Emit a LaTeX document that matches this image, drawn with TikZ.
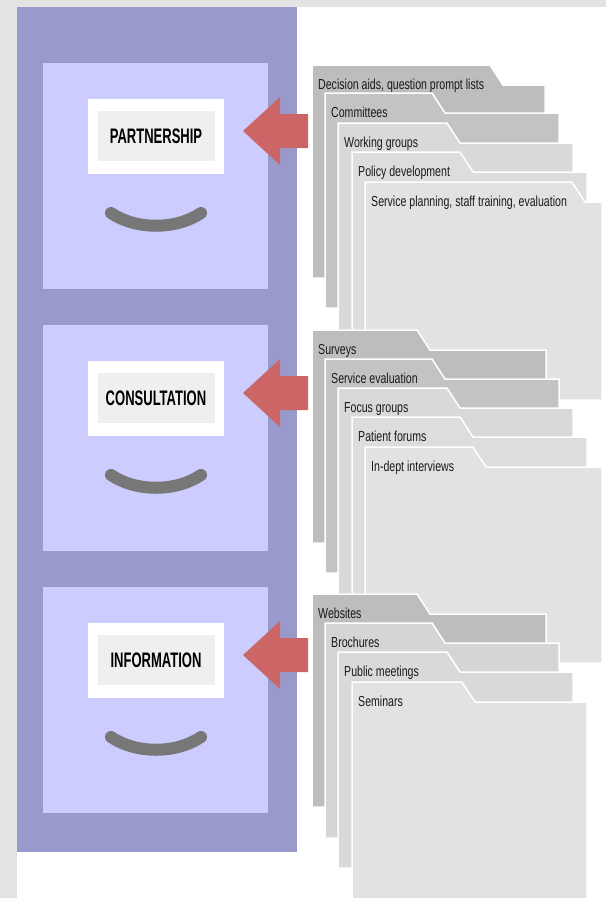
\documentclass[tikz,border=0pt]{standalone}
\usepackage{fontspec}
\setmainfont{Liberation Sans}
\newfontfamily\tabfont[FakeStretch=0.73]{Liberation Sans}
\newfontfamily\lblfont[FakeStretch=0.62]{Liberation Sans Bold}
\definecolor{frame}{HTML}{E3E3E3}
\definecolor{cabinet}{HTML}{9999CC}
\definecolor{drawer}{HTML}{CCCCFF}
\definecolor{lblgray}{HTML}{EFEFEF}
\definecolor{handlegray}{HTML}{777777}
\definecolor{arrowred}{HTML}{CC6666}
\definecolor{txt}{HTML}{1A1A1A}
\definecolor{fA}{HTML}{BDBDBD}
\definecolor{fB}{HTML}{C3C3C3}
\definecolor{fC}{HTML}{D9D9D9}
\definecolor{fD}{HTML}{DDDDDD}
\definecolor{fE}{HTML}{E2E2E2}
\definecolor{fF}{HTML}{D5D5D5}
\newcommand\fldr[7]{%
  \filldraw[fill=#6, draw=white, line width=1.5pt]
    (#1,#2) -- (#3,#2) -- (#3+13,#2+20) -- (#4,#2+20) -- (#4,#5) -- (#1,#5) -- cycle;
  \node[tabtext] at (#1+6,#2+24) {#7};
}
\newcommand\drw[3]{%
  \fill[drawer] (43,#1) rectangle (268,#1+226);
  \node[labelbox] (box#2) at (156,#1+73) {};
  \node[innerbox] (in#2) at (156,#1+73) {};
  \node[lbltext] (lbl#2) at (156,#1+73) {#3};
  \draw[handle] (111,#1+150) .. controls (136,#1+167) and (176,#1+167) .. (201,#1+150);
  \fill[arrowred] (243,#1+68) -- (280,#1+34) -- (280,#1+51) -- (308,#1+51)
     -- (308,#1+85) -- (280,#1+85) -- (280,#1+102) -- cycle;
}
\begin{document}
\begin{tikzpicture}[x=1pt,y=-1pt,
  tabtext/.style={anchor=base west, inner sep=0pt, text=txt,
    font=\tabfont\fontsize{14.5}{16}\selectfont},
  lbltext/.style={inner sep=0pt, text=black,
    font=\lblfont\fontsize{21}{24}\selectfont},
  labelbox/.style={fill=white, minimum width=136pt, minimum height=75pt, inner sep=0pt},
  innerbox/.style={fill=lblgray, minimum width=117pt, minimum height=50pt, inner sep=0pt},
  handle/.style={draw=handlegray, line width=12pt, line cap=round}]
\useasboundingbox (0,0) rectangle (606,898);
\fill[white] (0,0) rectangle (606,898);
\fill[frame] (0,0) rectangle (606,7);
\fill[frame] (0,0) rectangle (17,898);
% cabinet
\fill[cabinet] (17,7) rectangle (297,852);
\drw{63}{1}{PARTNERSHIP}
\drw{325}{2}{CONSULTATION}
\drw{587}{3}{INFORMATION}
% group 1
\fldr{312}{65}{490}{545}{278}{fA}{Decision aids, question prompt lists}
\fldr{325}{93}{432}{559}{308}{fB}{Committees}
\fldr{338}{123}{447}{573}{338}{fC}{Working groups}
\fldr{352}{152}{460}{587}{368}{fD}{Policy development}
\fldr{365}{182}{572}{602}{400}{fE}{Service planning, staff training, evaluation}
% group 2
\fldr{312}{330}{417}{546}{543}{fA}{Surveys}
\fldr{325}{359}{432}{559}{573}{fB}{Service evaluation}
\fldr{338}{388}{447}{573}{603}{fC}{Focus groups}
\fldr{352}{417}{460}{587}{633}{fD}{Patient forums}
\fldr{365}{447}{473}{602}{663}{fE}{In-dept interviews}
% group 3
\fldr{312}{594}{417}{546}{807}{fA}{Websites}
\fldr{325}{623}{432}{559}{838}{fF}{Brochures}
\fldr{338}{652}{447}{573}{868}{fC}{Public meetings}
\fldr{352}{682}{462}{587}{902}{fE}{Seminars}
\end{tikzpicture}
\end{document}
